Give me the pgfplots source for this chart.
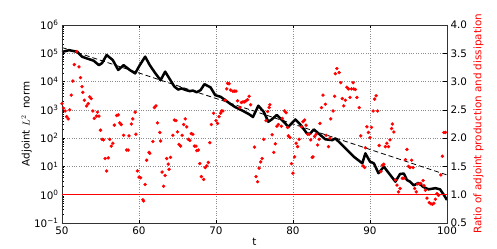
\documentclass[border=0pt]{standalone}
\usepackage{pgfplots}
\pgfplotsset{compat=1.18}
\usepackage{fontspec}
\setmainfont{DejaVu Sans}

\pgfplotstableread{
t r
50.0 2.61
50.2 2.53
50.4 2.48
50.6 2.38
50.8 2.34
51.0 2.50
51.2 2.76
51.4 3.01
51.6 3.30
51.9 3.53
52.2 3.26
52.4 3.07
52.6 2.91
52.7 2.81
52.9 2.67
53.2 2.57
53.4 2.61
53.6 2.73
53.8 2.70
54.0 2.48
54.2 2.35
54.5 2.39
54.6 2.46
54.8 2.39
55.0 2.14
55.2 1.98
55.4 1.97
55.6 1.64
55.8 1.42
56.0 1.65
56.2 1.98
56.4 1.86
56.6 1.91
56.8 2.23
57.1 2.40
57.3 2.41
57.5 2.27
57.7 2.24
58.0 2.05
58.4 1.79
58.6 1.79
58.7 2.04
59.0 2.25
59.2 2.34
59.5 2.46
59.6 2.07
59.8 1.42
60.0 1.31
60.2 1.30
60.5 0.91
60.6 0.89
60.8 1.18
61.0 1.61
61.3 1.75
61.4 1.73
61.8 1.94
62.0 2.54
62.2 2.57
62.4 2.27
62.7 2.10
62.8 1.95
63.0 1.40
63.2 1.15
63.4 1.34
63.6 1.64
63.8 1.54
63.9 1.45
64.1 1.66
64.4 2.05
64.6 2.32
64.8 2.31
65.0 2.11
65.2 1.89
65.4 1.86
65.6 2.05
65.8 2.24
66.0 2.34
66.2 2.20
66.4 1.98
66.6 1.96
66.8 2.08
67.0 2.07
67.2 1.86
67.4 1.86
67.5 1.78
67.7 1.79
67.9 1.55
68.1 1.32
68.4 1.27
68.6 1.48
68.8 1.51
69.0 1.57
69.2 1.92
69.4 2.24
69.7 2.44
70.0 2.31
70.2 2.26
70.4 2.38
70.6 2.44
70.7 2.48
70.9 2.48
71.2 2.67
71.4 2.87
71.5 2.97
71.7 2.96
71.9 2.85
72.2 2.83
72.4 2.83
72.6 2.83
72.8 2.66
73.1 2.54
73.3 2.63
73.5 2.64
73.7 2.64
73.9 2.66
74.1 2.68
74.3 2.74
74.5 2.59
75.0 1.84
75.2 1.32
75.4 1.23
75.6 1.47
75.8 1.58
76.0 1.64
76.2 1.98
76.5 2.31
76.7 2.47
76.9 2.54
77.0 2.59
77.3 2.06
77.5 1.75
77.7 1.90
77.9 2.21
78.1 2.24
78.5 2.21
78.6 2.35
78.9 2.48
79.1 2.45
79.3 2.19
79.4 2.04
79.6 2.01
79.8 1.55
80.0 1.38
80.2 1.67
80.4 1.91
80.6 1.85
80.8 1.98
81.1 2.20
81.3 2.29
81.5 2.32
81.7 2.23
81.9 2.07
82.1 2.07
82.3 1.97
82.5 1.66
82.6 1.67
82.8 2.03
83.0 2.07
83.2 1.88
83.4 1.98
83.5 2.26
83.7 2.54
83.9 2.76
84.2 2.60
84.3 2.05
84.6 1.85
84.8 2.00
84.9 2.34
85.2 2.48
85.4 2.74
85.5 3.14
85.7 3.23
86.0 3.16
86.2 2.98
86.4 2.70
86.6 2.57
86.8 2.67
87.0 2.90
87.2 2.87
87.4 2.72
87.6 2.87
87.8 2.98
87.9 2.87
88.1 2.86
88.3 2.72
88.6 2.54
88.8 2.04
89.1 1.51
89.3 1.48
89.4 1.83
89.6 2.20
89.8 2.10
90.0 2.01
90.2 2.19
90.4 2.48
90.6 2.69
90.8 2.75
91.0 2.48
91.2 1.87
91.4 1.41
91.6 1.52
91.8 1.54
92.0 1.85
92.2 1.91
92.4 1.85
92.6 1.97
92.8 2.17
92.9 2.25
93.1 2.11
93.3 1.26
93.5 1.17
93.7 1.05
93.9 1.11
94.2 1.29
94.4 1.29
94.6 1.62
94.8 1.80
95.0 1.50
95.2 1.48
95.4 1.61
95.6 1.48
95.8 1.11
96.0 1.05
96.2 1.19
96.4 1.19
96.6 1.20
96.9 1.25
97.0 1.16
97.2 1.08
97.4 0.94
97.7 0.86
97.9 0.84
98.1 0.83
98.3 0.85
98.5 0.92
98.7 1.02
98.9 0.99
99.2 1.35
99.4 1.68
99.6 2.10
99.8 2.10
}\ratiotable

\begin{document}
\begin{tikzpicture}[font=\fontsize{10.4}{12}\selectfont]
\useasboundingbox (-62bp,-26bp) rectangle (435bp,223bp);
\begin{axis}[
  scale only axis, width=385bp, height=198bp,
  xmin=50, xmax=100,
  ymode=log, ymin=0.1, ymax=1e6,
  xtick={50,60,70,80,90,100},
  ytick={0.1,1,10,100,1000,10000,100000,1000000},
  yticklabels={10\textsuperscript{−1},10\textsuperscript{0},10\textsuperscript{1},10\textsuperscript{2},10\textsuperscript{3},10\textsuperscript{4},10\textsuperscript{5},10\textsuperscript{6}},
  ytick pos=left,
  /pgf/number format/assume math mode=true,
  tick label style={font=\fontsize{10.4}{12}\selectfont, black},
  label style={font=\fontsize{10.4}{12}\selectfont},
  major tick length=3.5bp, minor tick length=1.8bp,
  tick style={black, line width=0.6bp},
  axis line style={black!80, line width=0.9bp},
  grid=major, grid style={dotted, black!45, line width=0.55bp},
  xlabel={t},
  xlabel style={at={(axis description cs:0.5,-0.095)}, anchor=center},
  ylabel={Adjoint $L^2$\ \ norm},
  ylabel style={at={(axis description cs:-0.092,0.5)}, anchor=center},
]
\addplot[black, dashed, dash pattern=on 5bp off 3bp, line width=0.8bp] coordinates {(50,1.6e5) (100,5.0)};
\addplot[black, line width=2.5bp, line join=round] coordinates {
(50.0,1.12e5)(50.5,1.2e5)(50.9,1.29e5)(51.5,1.2e5)(52.0,1.12e5)(52.6,7.6e4)(53.2,6.6e4)(54.1,5.5e4)(54.8,3.8e4)(55.2,4.5e4)(55.8,8.7e4)(56.6,5.75e4)(57.3,2.57e4)(58.0,3.8e4)(58.8,2.57e4)(59.5,1.95e4)(60.1,3.8e4)(60.8,7.6e4)(61.4,3.8e4)(62.1,2.0e4)(62.8,1.12e4)(63.4,2.24e4)(64.1,1.1e4)(64.6,6.6e3)(65.1,5.2e3)(65.5,5.75e3)(66.1,5.0e3)(66.6,4.6e3)(67.0,4.8e3)(67.5,4.2e3)(68.0,5.0e3)(68.5,8.1e3)(69.3,6.2e3)(69.9,3.3e3)(70.6,2.9e3)(71.2,2.2e3)(71.9,1.6e3)(72.5,1.25e3)(73.4,950)(74.3,700)(74.8,560)(75.5,1400)(76.2,850)(76.8,380)(77.2,450)(77.9,660)(78.8,380)(79.4,250)(80.3,457)(80.9,316)(81.8,148)(82.2,141)(82.7,204)(83.3,148)(84.2,91)(85.1,85)(85.5,98)(86.6,50)(87.9,22)(89.0,12.9)(89.4,29)(90.0,14.8)(90.5,12.9)(91.1,5.75)(91.8,9.8)(92.4,6.0)(93.3,2.9)(93.9,5.4)(94.4,5.6)(94.8,3.3)(95.2,2.9)(95.7,2.14)(96.3,2.63)(96.9,1.9)(97.6,1.55)(98.5,1.7)(99.1,1.55)(99.6,0.98)(100.0,0.65)
};
\end{axis}
\begin{axis}[
  scale only axis, width=385bp, height=198bp,
  xmin=50, xmax=100,
  ymin=0.5, ymax=4.0,
  xtick=\empty,
  ytick={0.5,1.0,1.5,2.0,2.5,3.0,3.5,4.0},
  ytick pos=right, yticklabel pos=right,
  /pgf/number format/assume math mode=true,
  yticklabel style={/pgf/number format/fixed, /pgf/number format/fixed zerofill, /pgf/number format/precision=1},
  tick label style={font=\fontsize{10.4}{12}\selectfont, black},
  label style={font=\fontsize{10.4}{12}\selectfont},
  major tick length=3.5bp,
  tick style={black, line width=0.6bp},
  axis line style={black!80, line width=0.9bp},
  ylabel={Ratio of adjoint production and dissipation},
  ylabel style={red, at={(axis description cs:1.082,0.5)}, anchor=center},
]
\addplot[red, line width=0.6bp] coordinates {(50,1.0) (100,1.0)};
\addplot[only marks, mark=*, mark size=1.5bp, red, mark options={draw=red, fill=red}] table[x=t, y=r] {\ratiotable};
\end{axis}
\end{tikzpicture}
\end{document}
